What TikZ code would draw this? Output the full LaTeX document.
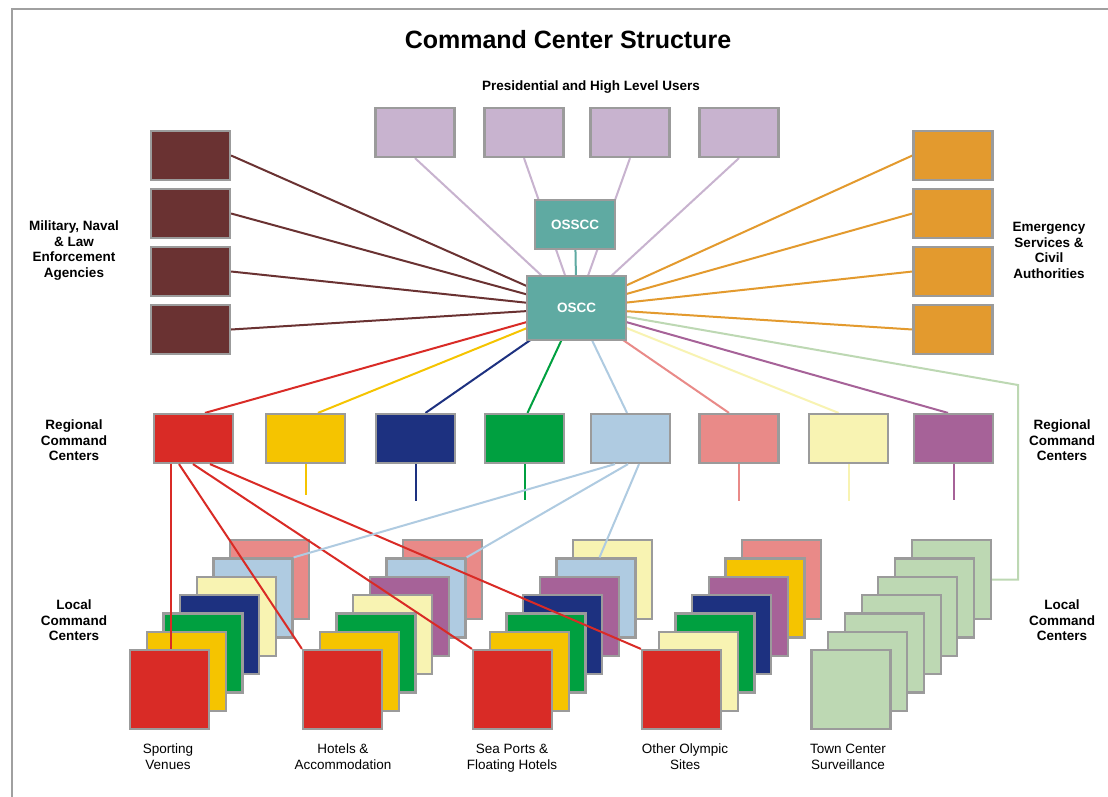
\documentclass[tikz,border=0pt]{standalone}
\usepackage{fontspec}
\setmainfont{Liberation Sans}
\definecolor{bgray}{HTML}{9B9B9B}
\definecolor{fgray}{HTML}{A0A0A0}
\definecolor{maroonc}{HTML}{6A3232}
\definecolor{lavc}{HTML}{C8B3CF}
\definecolor{orangec}{HTML}{E39A2E}
\definecolor{tealc}{HTML}{5FAAA2}
\definecolor{redc}{HTML}{D92B26}
\definecolor{yelc}{HTML}{F5C400}
\definecolor{navyc}{HTML}{1D3180}
\definecolor{greenc}{HTML}{00A040}
\definecolor{lbluec}{HTML}{AFCBE1}
\definecolor{pinkc}{HTML}{E98A88}
\definecolor{pyelc}{HTML}{F8F3B2}
\definecolor{purplec}{HTML}{A66298}
\definecolor{lgreenc}{HTML}{BDD8B3}
\pgfdeclarelayer{bg}
\pgfsetlayers{bg,main}
\begin{document}
\begin{tikzpicture}[x=1pt,y=-1pt,
  box/.style={draw=bgray, line width=2.2pt, minimum width=79pt, minimum height=49pt, inner sep=0pt},
  sq/.style={draw=bgray, line width=2.2pt, minimum width=79pt, minimum height=79pt, inner sep=0pt},
  conn/.style={line width=2pt},
  lbl/.style={font=\bfseries\fontsize{13.5}{15.5}\selectfont, align=center, inner sep=0pt},
  sub/.style={font=\fontsize{13.5}{15.5}\selectfont, align=center, inner sep=0pt, anchor=north},
  hub/.style={draw=bgray, line width=2.2pt, fill=tealc, inner sep=0pt, text=white, font=\bfseries\fontsize{13.5}{15.5}\selectfont}]
\useasboundingbox (0,0) rectangle (1108,796);

% title and labels
\node[font=\bfseries\fontsize{25}{28}\selectfont, inner sep=0pt] (title) at (568,40) {Command Center Structure};
\node[lbl] (pres) at (591,87) {Presidential and High Level Users};
\node[lbl] (mil) at (74,250.5) {Military, Naval\\\& Law\\Enforcement\\Agencies};
\node[lbl] (emg) at (1049,250.5) {Emergency\\Services \&\\Civil\\Authorities};
\node[lbl] (regl) at (74,440.5) {Regional\\Command\\Centers};
\node[lbl] (regr) at (1062,440.5) {Regional\\Command\\Centers};
\node[lbl] (locl) at (74,620.5) {Local\\Command\\Centers};
\node[lbl] (locr) at (1062,620.5) {Local\\Command\\Centers};
\node[sub] (b1) at (168,744) {Sporting\\Venues};
\node[sub] (b2) at (343,744) {Hotels \&\\Accommodation};
\node[sub] (b3) at (512,744) {Sea Ports \&\\Floating Hotels};
\node[sub] (b4) at (685,744) {Other Olympic\\Sites};
\node[sub] (b5) at (848,744) {Town Center\\Surveillance};

% top presidential boxes
\foreach \x [count=\i] in {415,524,630,739}
  \node[box, fill=lavc] (p\i) at (\x,132.5) {};
% military and emergency boxes
\foreach \y [count=\i] in {155.5,213.5,271.5,329.5} {
  \node[box, fill=maroonc] (m\i) at (190.5,\y) {};
  \node[box, fill=orangec] (e\i) at (953,\y) {};
}
% hubs
\node[hub, minimum width=80pt, minimum height=49pt] (osscc) at (575,224.5) {OSSCC};
\node[hub, minimum width=99pt, minimum height=64pt] (oscc) at (576.5,308) {OSCC};

% regional boxes
\foreach \x/\c [count=\i] in {193.5/redc,305.5/yelc,415.5/navyc,524.5/greenc,630.5/lbluec,739/pinkc,848.5/pyelc,953.5/purplec}
  \node[box, fill=\c] (r\i) at (\x,438.5) {};

% local stacks (back to front)
\foreach \sx/\cols/\nm in {
  169.5/{pinkc,lbluec,pyelc,navyc,greenc,yelc,redc}/s1,
  342.5/{pinkc,lbluec,purplec,pyelc,greenc,yelc,redc}/s2,
  512.5/{pyelc,lbluec,purplec,navyc,greenc,yelc,redc}/s3,
  681.5/{pinkc,yelc,purplec,navyc,greenc,pyelc,redc}/s4,
  851/{lgreenc,lgreenc,lgreenc,lgreenc,lgreenc,lgreenc,lgreenc}/s5} {
  \foreach \c [count=\i, evaluate=\i as \k using int(7-\i)] in \cols
    \node[sq, fill=\c] (\nm-\k) at ({\sx+16.7*\k},{689.5-18.3*\k}) {};
}

% connectors behind boxes
\begin{pgfonlayer}{bg}
\fill[white] (0,0) rectangle (1108,796);
\draw[fgray, line width=2pt] (12,800) -- (12,9) -- (1112,9);
\foreach \i in {1,...,4} {
  \draw[conn, lavc] (p\i.south) -- (oscc.center);
  \draw[conn, maroonc] (m\i.east) -- (oscc.center);
  \draw[conn, orangec] (e\i.west) -- (oscc.center);
}
\draw[conn, tealc] (osscc.center) -- (oscc.center);
\coordinate (gbend) at (1018,385);
\draw[conn, lgreenc] (oscc.center) -- (gbend) |- (s5-6.east);
\foreach \i/\c/\s in {1/redc/11.5,2/yelc/12.5,3/navyc/10,4/greenc/3,5/lbluec/-3.5,6/pinkc/-10,7/pyelc/-10,8/purplec/-5.5}
  \draw[conn, \c] ([xshift=\s pt]r\i.north) -- (oscc.center);
\foreach \i/\c/\l in {2/yelc/31,3/navyc/37,4/greenc/36,6/pinkc/37,7/pyelc/37,8/purplec/36}
  \draw[conn, \c] (r\i.south) -- ++(0,\l);
\end{pgfonlayer}

% connectors to local stacks
\draw[conn, redc] ([xshift=-22.5pt]r1.south) -- ([xshift=1.5pt]s1-0.north);
\draw[conn, redc] ([xshift=-14.5pt]r1.south) -- (s2-0.north west);
\draw[conn, redc] ([xshift=-0.5pt]r1.south) -- (s3-0.north west);
\draw[conn, redc] ([xshift=16.5pt]r1.south) -- (s4-0.north west);
\draw[conn, lbluec] ([xshift=-15.5pt]r5.south) -- (s1-5.north east);
\draw[conn, lbluec] ([xshift=-2.5pt]r5.south) -- (s2-5.north east);
\draw[conn, lbluec] ([xshift=8.5pt]r5.south) -- ([xshift=3.5pt]s3-5.north);
\end{tikzpicture}
\end{document}
